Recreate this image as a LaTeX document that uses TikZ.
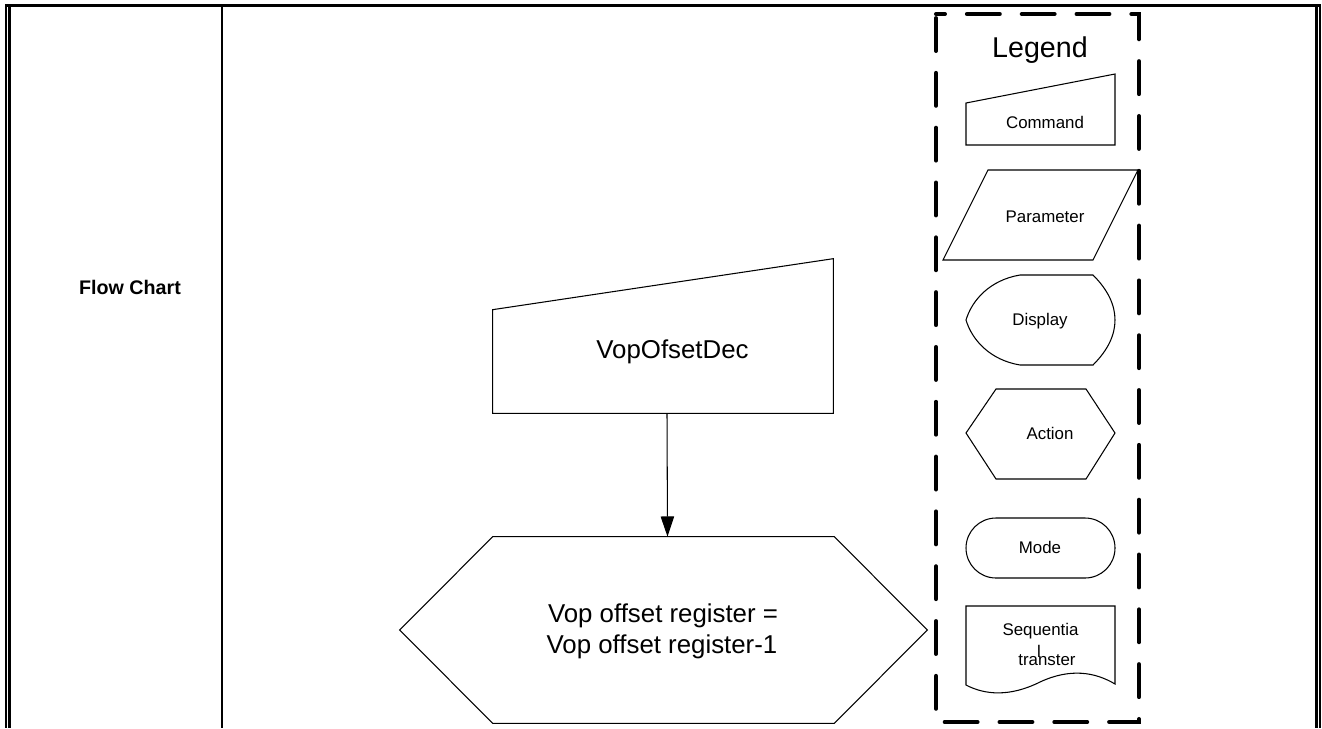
\documentclass[tikz,border=0pt]{standalone}
\usepackage{fontspec}
\setmainfont{Liberation Sans}
\usetikzlibrary{positioning,arrows.meta,calc}

\begin{document}
\begin{tikzpicture}[
  x=0.02cm, y=-0.02cm,
  font=\fontsize{9.6pt}{11pt}\selectfont,
  outline/.style={draw=none, inner sep=0pt},
  shp/.style={draw, line width=0.6pt},
  lbl/.style={anchor=base, inner sep=0pt},
  big/.style={font=\fontsize{14.7pt}{17.6pt}\selectfont},
  legendbox/.style={draw, line width=2.3pt, line cap=round, dash pattern=on 18.7pt off 12.5pt, dash phase=13.6pt},
  arr/.style={-{Triangle[length=11.5pt,width=7.6pt]}, line width=0.6pt}
]
\useasboundingbox (0,0) rectangle (1322,728);

% table frame
\draw[line width=1.9pt] (5,5.5) -- (1320.5,5.5);
\draw[line width=0.6pt] (6,5) -- (6,728);
\draw[line width=1.3pt] (9.5,5) -- (9.5,728);
\draw[line width=1.1pt] (222,5) -- (222,728);
\draw[line width=1.7pt] (1316.5,5) -- (1316.5,728);
\draw[line width=0.6pt] (1320,5) -- (1320,728);
\node[lbl, font=\fontsize{11.2pt}{13pt}\selectfont\bfseries] (title) at (130,294) {Flow Chart};

% flow
\node[outline, minimum width=6.8cm, minimum height=3.08cm] (cmd) at (663,336) {};
\draw[shp] (cmd.south west) -- ([yshift=-1.02cm]cmd.north west) -- (cmd.north east) -- (cmd.south east) -- cycle;
\node[lbl, big] (cmdtext) at (672.5,358) {VopOfsetDec};

\node[outline, minimum width=10.54cm, minimum height=3.72cm] (act) at (663.5,630) {};
\draw[shp] (act.west) -- ([xshift=1.86cm]act.north west) -- ([xshift=-1.86cm]act.north east) -- (act.east)
  -- ([xshift=-1.86cm]act.south east) -- ([xshift=1.86cm]act.south west) -- cycle;
\node[lbl, big] (acttext1) at (663,622) {Vop offset register =};
\node[lbl, big] (acttext2) at (662,653) {Vop offset register-1};

\draw[arr] ([xshift=0.08cm]cmd.south) -- ([xshift=0.08cm]act.north);

% legend
\draw[legendbox] (936,14) -- (1139,14) -- (1139,722) -- (936,722) -- cycle;
\node[lbl, font=\fontsize{16.3pt}{19pt}\selectfont] (legend) at (1040,57) {Legend};

\draw[shp] (966,145) -- (966,103) -- (1115,74) -- (1115,145) -- cycle;
\node[lbl] (lcmd) at (1045,128) {Command};

\draw[shp] (943,260) -- (988,170) -- (1138,170) -- (1093,260) -- cycle;
\node[lbl] (lpar) at (1045,222) {Parameter};

\draw[shp] (1020,275) -- (1093,275) .. controls (1108,290) and (1115,305) .. (1115,320)
  .. controls (1115,335) and (1108,350) .. (1093,365) -- (1020,365)
  .. controls (990,360) and (972,340) .. (966,320) .. controls (972,300) and (990,280) .. (1020,275) -- cycle;
\node[lbl] (ldisp) at (1040,325) {Display};

\draw[shp] (966,433) -- (996,389) -- (1086,389) -- (1115,433) -- (1086,479) -- (996,479) -- cycle;
\node[lbl] (lact) at (1050,439) {Action};

\draw[shp, rounded corners=0.6cm] (966,518) rectangle (1115,578);
\node[lbl] (lmode) at (1040,553) {Mode};

\draw[shp] (966,685) -- (966,606) -- (1115,606) -- (1115,684)
  .. controls (1095,672) and (1070,668) .. (1040,682) .. controls (1010,697) and (985,695) .. (966,685) -- cycle;
\node[lbl] (lseq1) at (1040.5,635) {Sequentia};
\node[lbl] (lseq2) at (1039,657) {l};
\node[lbl] (lseq3) at (1047,665) {transter};
\end{tikzpicture}
\end{document}
